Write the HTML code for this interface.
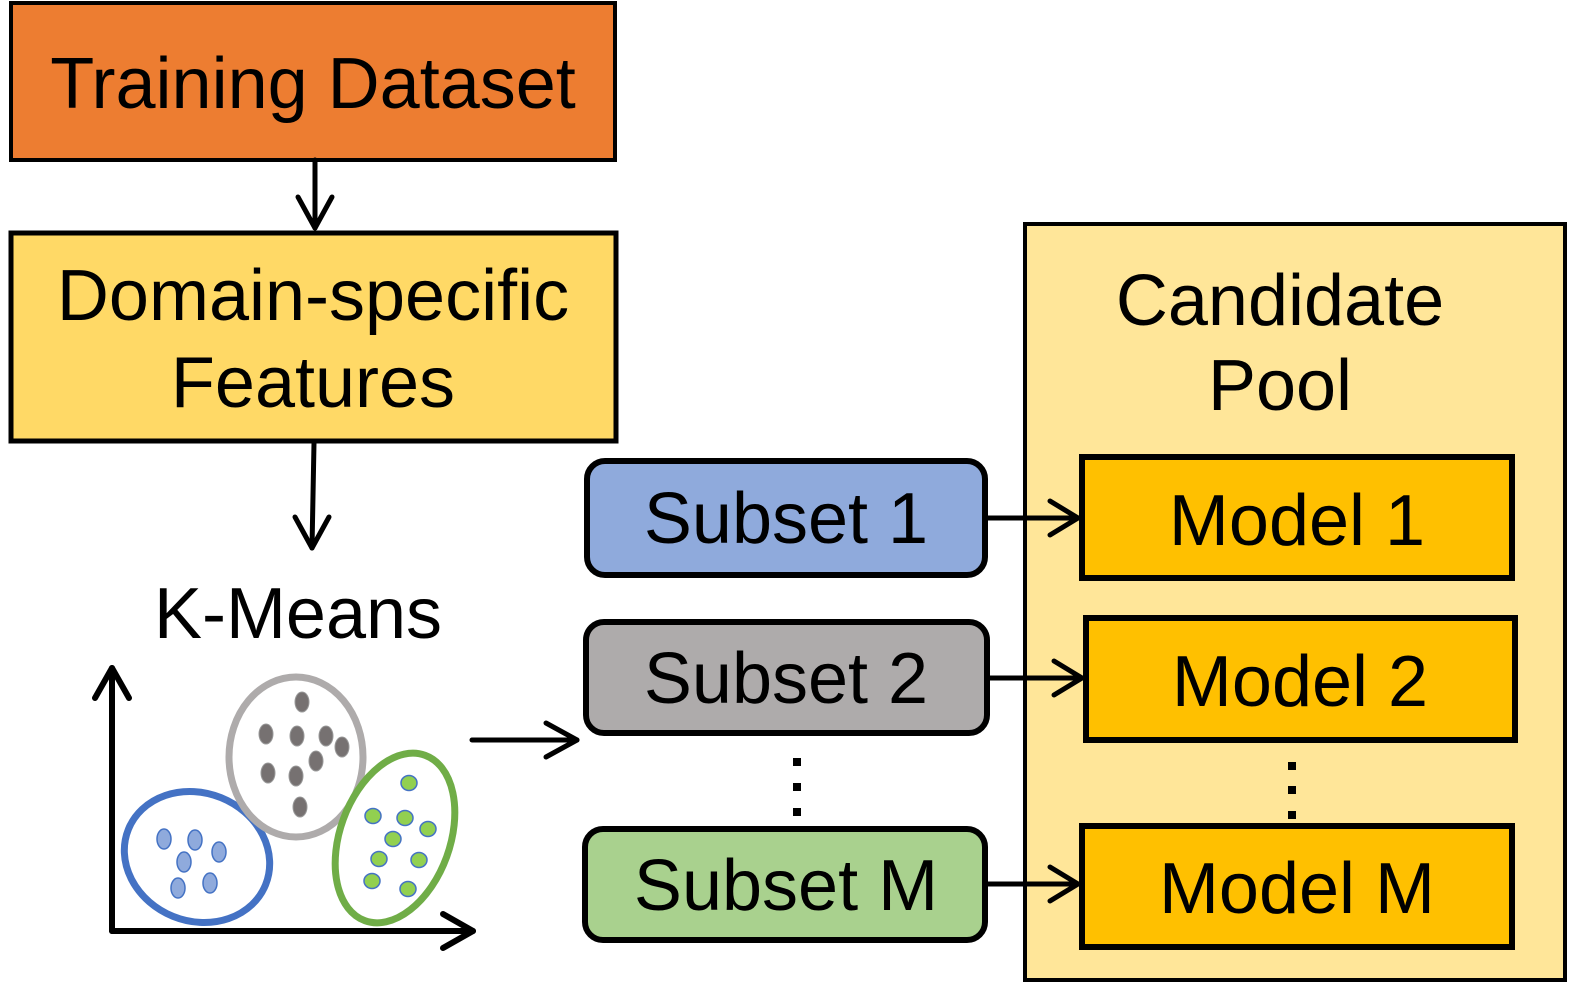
<!DOCTYPE html>
<html><head><meta charset="utf-8"><style>
html,body{margin:0;padding:0;background:#fff;}
svg{display:block;}
text{font-family:"Liberation Sans",Arial,sans-serif;font-size:72px;fill:#000;}
</style></head><body>
<svg width="1570" height="984" viewBox="0 0 1570 984" xmlns="http://www.w3.org/2000/svg">
<rect x="1025" y="224" width="540" height="756" fill="#FFE699" stroke="#000" stroke-width="4"/>
<rect x="11" y="3" width="604" height="157" fill="#ED7D31" stroke="#000" stroke-width="4"/>
<text x="313" y="108" text-anchor="middle">Training Dataset</text>
<rect x="11" y="233" width="605" height="208" fill="#FFD966" stroke="#000" stroke-width="5"/>
<text x="313" y="320" text-anchor="middle">Domain-specific</text>
<text x="313" y="407" text-anchor="middle">Features</text>
<text x="298" y="638" text-anchor="middle">K-Means</text>
<g stroke="#000" stroke-width="5" fill="none" stroke-linecap="round" stroke-linejoin="round">
<line x1="315" y1="160" x2="315" y2="228"/><polyline points="298,197 315,228 332,197"/>
<line x1="314" y1="443" x2="312" y2="548"/><polyline points="295,517 312,548 329,517"/>
<line x1="472" y1="740" x2="577" y2="740"/><polyline points="546,723 577,740 546,757"/>
<line x1="987" y1="518" x2="1078" y2="518"/><polyline points="1050,501 1078,518 1050,535"/>
<line x1="989" y1="678" x2="1082" y2="678"/><polyline points="1054,661 1082,678 1054,695"/>
<line x1="987" y1="884" x2="1078" y2="884"/><polyline points="1050,867 1078,884 1050,901"/>
</g>
<rect x="587" y="461" width="398" height="114" rx="18" fill="#8FAADC" stroke="#000" stroke-width="6"/>
<text x="786" y="543" text-anchor="middle">Subset 1</text>
<rect x="586" y="622" width="401" height="111" rx="18" fill="#AEABAB" stroke="#000" stroke-width="6"/>
<text x="786" y="703" text-anchor="middle">Subset 2</text>
<rect x="585" y="829" width="400" height="111" rx="18" fill="#A9D18E" stroke="#000" stroke-width="6"/>
<text x="786" y="910" text-anchor="middle">Subset M</text>
<g fill="#000">
<rect x="793" y="758" width="8" height="8"/><rect x="793" y="783" width="8" height="8"/><rect x="793" y="808" width="8" height="8"/>
<rect x="1288" y="762" width="8" height="8"/><rect x="1288" y="786" width="8" height="8"/><rect x="1288" y="811" width="8" height="8"/>
</g>
<text x="1280" y="325" text-anchor="middle">Candidate</text>
<text x="1280" y="410" text-anchor="middle">Pool</text>
<rect x="1082" y="457" width="430" height="121" fill="#FFC000" stroke="#000" stroke-width="6"/>
<text x="1297" y="545" text-anchor="middle">Model 1</text>
<rect x="1086" y="618" width="429" height="122" fill="#FFC000" stroke="#000" stroke-width="6"/>
<text x="1300" y="706" text-anchor="middle">Model 2</text>
<rect x="1082" y="826" width="430" height="121" fill="#FFC000" stroke="#000" stroke-width="6"/>
<text x="1297" y="913" text-anchor="middle">Model M</text>
<g stroke="#000" stroke-width="6" fill="none" stroke-linecap="round" stroke-linejoin="round">
<line x1="112" y1="668" x2="112" y2="931"/><polyline points="95,698 112,668 129,698"/>
<line x1="112" y1="931" x2="473" y2="931"/><polyline points="443,914 473,931 443,948"/>
</g>
<ellipse cx="197" cy="857" rx="74" ry="64" transform="rotate(22 197 857)" fill="none" stroke="#4472C4" stroke-width="7"/>
<ellipse cx="296" cy="757" rx="67" ry="80" fill="#fff" stroke="#AEABAB" stroke-width="7"/>
<ellipse cx="395" cy="838" rx="55" ry="88" transform="rotate(20 395 838)" fill="#fff" stroke="#70AD47" stroke-width="7"/>
<g fill="#767171" stroke="#999" stroke-width="1">
<ellipse cx="302" cy="702" rx="7" ry="10"/><ellipse cx="266" cy="734" rx="7" ry="10"/><ellipse cx="297" cy="736" rx="7" ry="10"/>
<ellipse cx="326" cy="736" rx="7" ry="10"/><ellipse cx="342" cy="747" rx="7" ry="10"/><ellipse cx="316" cy="761" rx="7" ry="10"/>
<ellipse cx="268" cy="773" rx="7" ry="10"/><ellipse cx="296" cy="776" rx="7" ry="10"/><ellipse cx="300" cy="807" rx="7" ry="10"/>
</g>
<g fill="#8FAADC" stroke="#4472C4" stroke-width="1.5">
<ellipse cx="164" cy="839" rx="7" ry="10"/><ellipse cx="195" cy="840" rx="7" ry="10"/><ellipse cx="219" cy="852" rx="7" ry="10"/>
<ellipse cx="184" cy="862" rx="7" ry="10"/><ellipse cx="178" cy="888" rx="7" ry="10"/><ellipse cx="210" cy="883" rx="7" ry="10"/>
</g>
<g fill="#92D050" stroke="#4472C4" stroke-width="1.5">
<ellipse cx="409" cy="783" rx="8" ry="7.5"/><ellipse cx="373" cy="816" rx="8" ry="7.5"/><ellipse cx="405" cy="818" rx="8" ry="7.5"/>
<ellipse cx="428" cy="829" rx="8" ry="7.5"/><ellipse cx="393" cy="839" rx="8" ry="7.5"/><ellipse cx="379" cy="859" rx="8" ry="7.5"/>
<ellipse cx="419" cy="860" rx="8" ry="7.5"/><ellipse cx="372" cy="881" rx="8" ry="7.5"/><ellipse cx="408" cy="889" rx="8" ry="7.5"/>
</g>
</svg>
</body></html>
